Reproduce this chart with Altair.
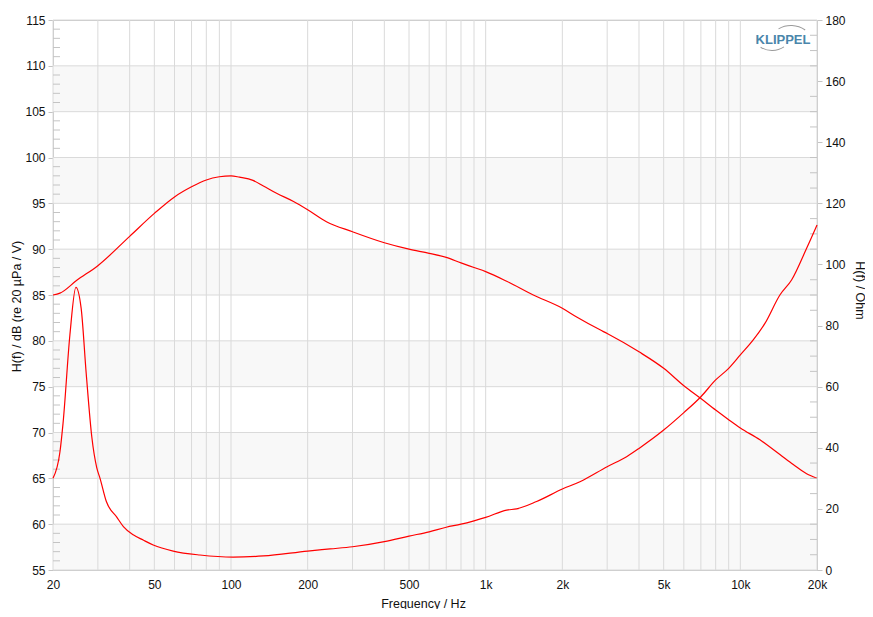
import altair as alt
import pandas as pd

# ---------------- data ----------------
spl_freq = [20, 21.3, 24.8, 30, 40, 50, 60, 70, 80, 90, 100, 108, 122, 134, 151, 176,
            200, 237, 300, 400, 500, 600, 700, 800, 900, 1000, 1209, 1538, 2000, 2277,
            2812, 3000, 4000, 5000, 6000, 7000, 8000, 9000, 10000, 11940, 14300, 16140,
            18210, 20000]
spl_db = [85.0, 85.2, 86.6, 88.2, 91.4, 93.9, 95.7, 96.8, 97.55, 97.9, 98.0, 97.85, 97.5,
          96.9, 96.1, 95.2, 94.3, 93.0, 91.9, 90.7, 90.0, 89.55, 89.1, 88.5, 88.0, 87.55,
          86.5, 85.0, 83.55, 82.6, 81.2, 80.8, 78.8, 77.0, 75.1, 73.7, 72.45, 71.4, 70.5,
          69.2, 67.6, 66.5, 65.5, 65.0]

imp_freq = [20, 21.3, 21.9, 23.3, 24.6, 25.8, 27.0, 28.4, 29.7, 30.6, 32.4, 35.6, 37.8,
            41.3, 45.2, 49.5, 59.3, 75.5, 102, 134, 200, 245, 300, 400, 500, 600, 700,
            800, 900, 1000, 1209, 1323, 1585, 2000, 2346, 3000, 3577, 4000, 5000, 6000,
            7000, 8000, 9000, 10000, 11236, 12490, 14300, 15890, 18210, 20000]
imp_ohm = [30.0, 38.7, 48.0, 76.9, 92.5, 85.6, 64.4, 43.6, 33.5, 30.0, 22.4, 17.3, 14.2,
           11.5, 9.8, 8.2, 6.2, 4.9, 4.2, 4.6, 6.2, 6.9, 7.6, 9.3, 11.1, 12.5, 14.0, 15.0,
           16.1, 17.2, 19.6, 20.0, 22.4, 26.5, 28.9, 33.8, 37.1, 39.8, 45.8, 51.5, 56.7,
           62.2, 66.0, 70.4, 75.3, 80.7, 90.0, 94.9, 105.3, 112.9]

band_lo = [55, 65, 75, 85, 95, 105]
band_hi = [60, 70, 80, 90, 100, 110]
db_major = [55, 60, 65, 70, 75, 80, 85, 90, 95, 100, 105, 110, 115]
db_minor = [v for v in range(55, 116) if v % 5 != 0]
ohm_major = [0, 20, 40, 60, 80, 100, 120, 140, 160, 180]
ohm_minor = [v for v in range(0, 181, 5) if v % 20 != 0]
freq_grid = [20, 30, 40, 50, 60, 70, 80, 90, 100, 200, 300, 400, 500, 600, 700, 800, 900,
             1000, 2000, 3000, 4000, 5000, 6000, 7000, 8000, 9000, 10000, 20000]
freq_labels = [20, 50, 100, 200, 500, 1000, 2000, 5000, 10000, 20000]

# ---------------- tables ----------------
spl_df = pd.DataFrame({"f": spl_freq, "db": spl_db})
imp_df = pd.DataFrame({"f": imp_freq, "ohm": imp_ohm})
band_df = pd.DataFrame({"db": band_lo, "db2": band_hi, "f": 20, "f2": 20000})
hgrid_df = pd.DataFrame({"db": db_major})
vgrid_df = pd.DataFrame({"f": freq_grid})
dbminor_df = pd.DataFrame({"db": db_minor})
ohmminor_df = pd.DataFrame({"ohm": ohm_minor})
logo_df = pd.DataFrame({"t": ["KLIPPEL"]})

W, H = 764, 550
FONT = "Liberation Sans"
GRID = "#dadada"
AXC = "#c4c4c4"
RED = "#ff0000"

xs = alt.Scale(type="log", domain=[20, 20000], nice=False)
ys_l = alt.Scale(domain=[55, 115], nice=False, zero=False)
ys_r = alt.Scale(domain=[0, 180], nice=False, zero=False)

x_axis = alt.Axis(values=freq_labels, ticks=False, grid=False, domain=False, format="~s",
                  labelOverlap=False, labelFlush=False, labelPadding=9,
                  title="Frequency / Hz", titleX=370, titleY=33, titleBaseline="middle",
                  titleAlign="center", titleFontWeight="normal")
yl_axis = alt.Axis(values=db_major, grid=False, tickSize=5, tickColor=AXC, domainColor=AXC,
                   labelFlush=False, labelPadding=3, labelOverlap=False,
                   title="H(f) / dB (re 20 µPa / V)", titleX=-37, titleY=286,
                   titleBaseline="middle", titleAlign="center", titleFontWeight="normal")
yr_axis = alt.Axis(orient="right", values=ohm_major, grid=False, tickSize=5, tickColor=AXC,
                   domainColor=AXC, labelFlush=False, labelPadding=3, labelOverlap=False,
                   title="H(f) / Ohm", titleX=42, titleY=270, titleBaseline="middle",
                   titleAlign="center", titleFontWeight="normal")

X = alt.X("f:Q", scale=xs, axis=x_axis)
YL = alt.Y("db:Q", scale=ys_l, axis=yl_axis)
YR = alt.Y("ohm:Q", scale=ys_r, axis=yr_axis)

bands = alt.Chart(band_df).mark_rect(color="#f8f8f8").encode(
    x=X, x2="f2:Q", y=YL, y2="db2:Q")
hgrid = alt.Chart(hgrid_df).mark_rule(color=GRID, strokeWidth=1).encode(y=YL)
vgrid = alt.Chart(vgrid_df).mark_rule(color=GRID, strokeWidth=1).encode(x=X)
lminor = alt.Chart(dbminor_df).mark_rule(color=AXC, strokeWidth=1).encode(
    y=YL, x=alt.value(0), x2=alt.value(7))
spl_line = alt.Chart(spl_df).mark_line(color=RED, strokeWidth=1.2,
                                       interpolate="monotone").encode(x=X, y=YL)

logo_text = alt.Chart(logo_df).mark_text(
    font=FONT, fontSize=13, fontWeight="bold", color="#4a86ab", align="center",
    baseline="middle"
).encode(text="t:N", x=alt.value(730), y=alt.value(20))
logo_arc1 = alt.Chart(logo_df).mark_arc(
    radius=25, radius2=24, theta=5.75, theta2=6.9, color="#9a9a9a"
).encode(x=alt.value(738), y=alt.value(30))
logo_arc2 = alt.Chart(logo_df).mark_arc(
    radius=22, radius2=21, theta=2.55, theta2=3.7, color="#9a9a9a"
).encode(x=alt.value(719), y=alt.value(9))

left_layer = alt.layer(bands, hgrid, vgrid, lminor, spl_line, logo_text, logo_arc1, logo_arc2)

rminor = alt.Chart(ohmminor_df).mark_rule(color=AXC, strokeWidth=1).encode(
    y=YR, x=alt.value(W - 7), x2=alt.value(W))
imp_line = alt.Chart(imp_df).mark_line(color=RED, strokeWidth=1.2,
                                       interpolate="monotone").encode(x=X, y=YR)
right_layer = alt.layer(rminor, imp_line)

chart = alt.layer(left_layer, right_layer).resolve_scale(y="independent").properties(
    width=W, height=H,
    autosize=alt.AutoSizeParams(type="none"),
    padding={"left": 45, "top": 12, "right": 48, "bottom": 39},
    background="white",
).configure_view(stroke=AXC, strokeWidth=1).configure_axis(
    labelFont=FONT, labelFontSize=12, labelColor="#111111",
    titleFont=FONT, titleFontSize=12.5, titleColor="#111111",
)

chart.save("out.html", embed_options={"renderer": "svg", "actions": False})
